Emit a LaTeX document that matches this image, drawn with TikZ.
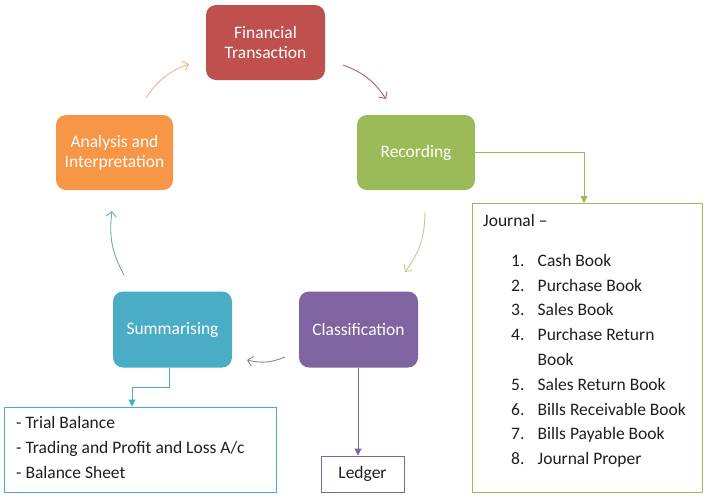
\documentclass[tikz,border=0pt]{standalone}
\usepackage{fontspec}
\setmainfont{Carlito}
\usetikzlibrary{arrows.meta}
\definecolor{cfin}{HTML}{C0504D}
\definecolor{crec}{HTML}{9BBB59}
\definecolor{ccla}{HTML}{8064A2}
\definecolor{csum}{HTML}{4BACC6}
\definecolor{cana}{HTML}{F79646}
\definecolor{afin}{HTML}{B8577A}
\definecolor{arec}{HTML}{B9CC8F}
\definecolor{acla}{HTML}{8C819E}
\definecolor{asum}{HTML}{6AA7BB}
\definecolor{aana}{HTML}{F2B487}
\definecolor{txt}{HTML}{1E1E1E}
\begin{document}
\begin{tikzpicture}[x=1pt,y=-1pt,
  stage/.style={rounded corners=10pt, inner sep=0pt, text=white, align=center,
    font=\fontsize{17.5}{20}\selectfont},
  cyc/.style={line width=0.9pt, -{Straight Barb[length=5pt,width=10pt]}, bend left=18},
  elbow/.style={line width=0.9pt, -{Triangle[length=7pt,width=7pt]}},
  outbox/.style={draw, line width=0.9pt, inner sep=0pt},
  lst/.style={anchor=base west, inner sep=0pt, text=txt, font=\fontsize{17.5}{20}\selectfont}]
\useasboundingbox (0,0) rectangle (710,499);
% stages
\node[stage, fill=cfin, minimum width=119pt, minimum height=75pt] (fin) at (265.5,42.5) {Financial\\Transaction};
\node[stage, fill=crec, minimum width=118pt, minimum height=75pt] (rec) at (416,152.5) {Recording};
\node[stage, fill=ccla, minimum width=119pt, minimum height=76pt] (cla) at (358.5,329.5) {Classification};
\node[stage, fill=csum, minimum width=119pt, minimum height=76pt] (sum) at (172.5,329.5) {Summarising};
\node[stage, fill=cana, minimum width=117pt, minimum height=75pt] (ana) at (114.5,152.5) {Analysis and\\Interpretation};
% cycle arrow ends
\coordinate (c1s) at (343,65);  \coordinate (c1e) at (386,99);
\coordinate (c2s) at (425,212); \coordinate (c2e) at (405,272);
\coordinate (c3s) at (285,357); \coordinate (c3e) at (247,360);
\coordinate (c4s) at (124,275); \coordinate (c4e) at (112,211);
\coordinate (c5s) at (146,98);  \coordinate (c5e) at (189,64);
\draw[cyc, afin] (c1s) to (c1e);
\draw[cyc, arec] (c2s) to (c2e);
\draw[cyc, acla] (c3s) to (c3e);
\draw[cyc, asum] (c4s) to (c4e);
\draw[cyc, aana] (c5s) to (c5e);
% output boxes
\node[outbox, draw=crec, minimum width=230pt, minimum height=289pt] (jbox) at (587,347.5) {};
\node[outbox, draw=csum, minimum width=272pt, minimum height=85pt] (tbox) at (140.5,449.5) {};
\node[outbox, draw=ccla, minimum width=83pt, minimum height=36pt, text=txt,
  font=\fontsize{17.5}{20}\selectfont] (ledger) at (362.5,474) {Ledger};
% connectors
\draw[elbow, crec] (rec.east) -- (584,152.5) -- (584,203);
\draw[elbow, csum] (169,367.5) -- (169,387.5) -- (132,387.5) -- (tbox.north -| 132,0);
\draw[elbow, ccla] (cla.south -| 358,0) -- (ledger.north -| 358,0);
% journal text
\node[lst] (jt) at (483,226) {Journal –};
\foreach \i/\y/\t in {1/266/Cash Book, 2/291/Purchase Book, 3/315/Sales Book,
  4/340/Purchase Return, 5/390/Sales Return Book, 6/415/Bills Receivable Book,
  7/439/Bills Payable Book, 8/464/Journal Proper}{
  \node[lst] (n\i) at (511,\y) {\i.};
  \node[lst] (t\i) at (537.5,\y) {\t};
}
\node[lst] (t4b) at (537.5,365) {Book};
% summary text
\node[lst] (s1) at (16,428) {- Trial Balance};
\node[lst] (s2) at (16,453) {- Trading and Profit and Loss A/c};
\node[lst] (s3) at (16,478) {- Balance Sheet};
\end{tikzpicture}
\end{document}
